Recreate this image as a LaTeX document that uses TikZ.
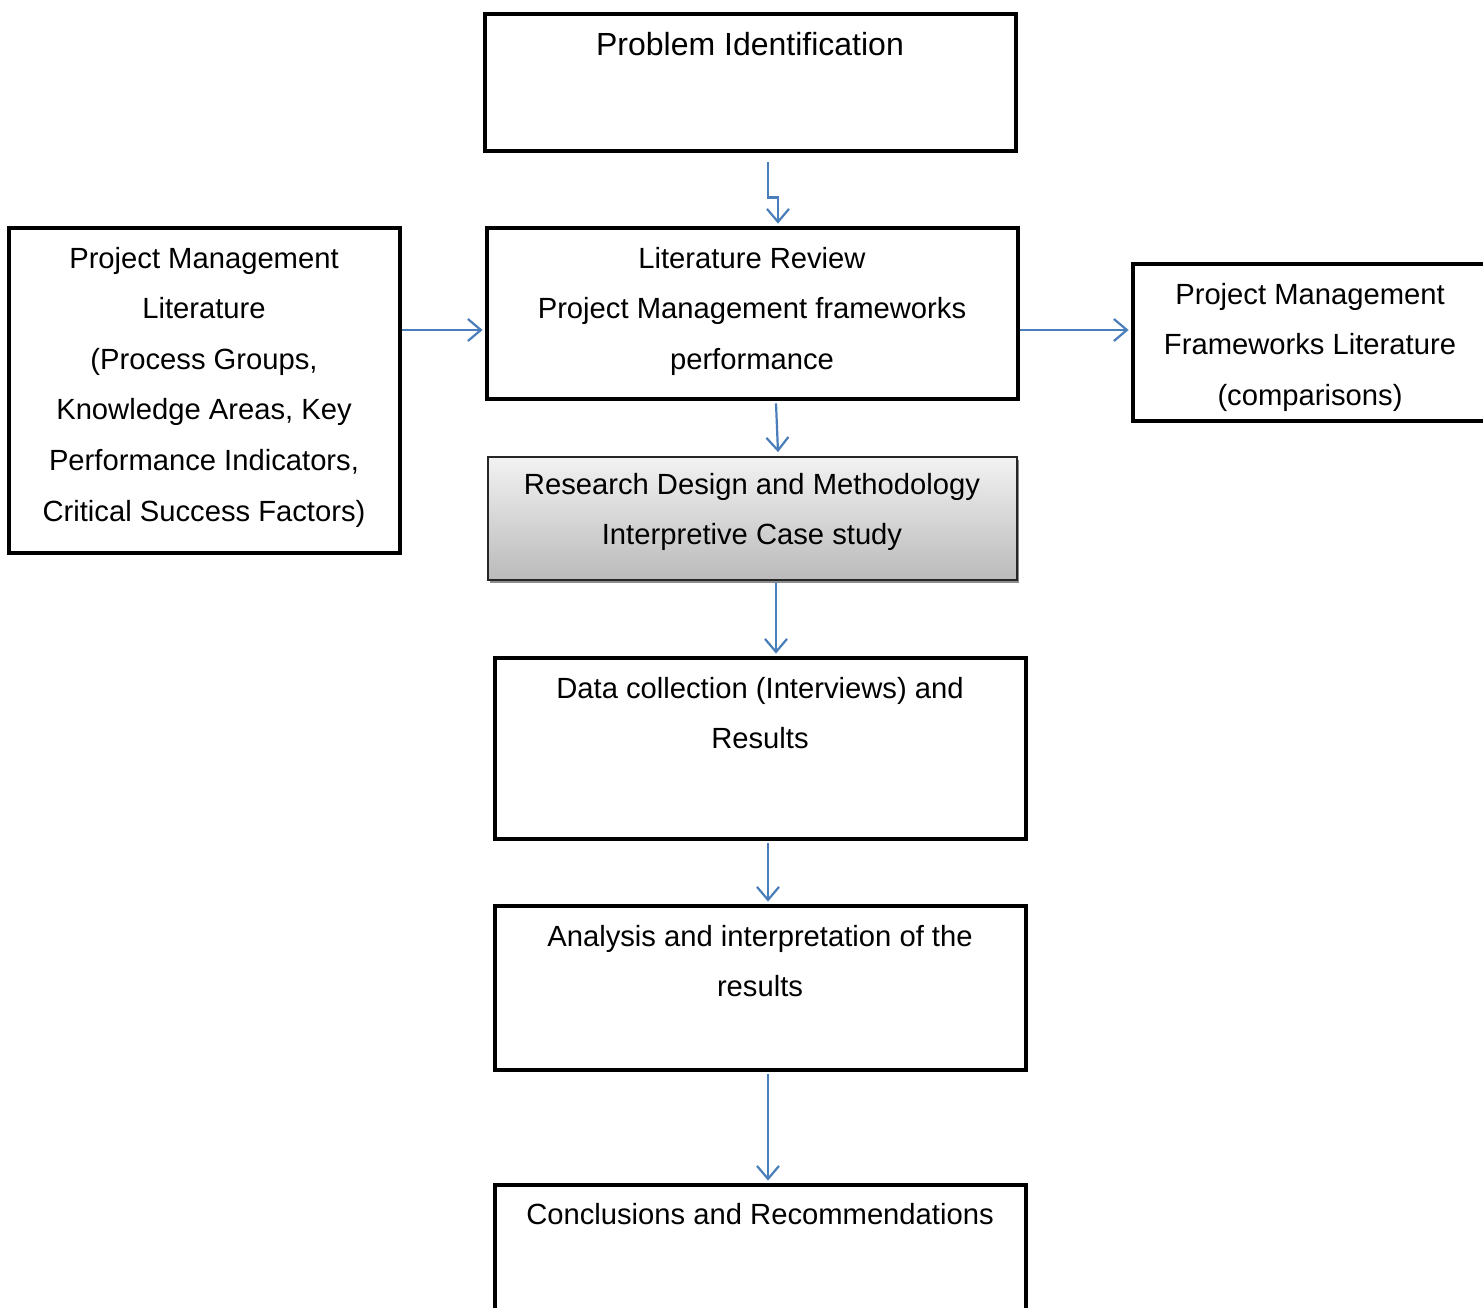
\documentclass[tikz,border=0pt]{standalone}
\usepackage{fontspec}
\setmainfont{Liberation Sans}
\usetikzlibrary{arrows.meta,fit,shadows,calc}
\definecolor{flowblue}{HTML}{4A7EBB}
\begin{document}
\begin{tikzpicture}[x=0.5pt,y=-0.5pt,
  box/.style={draw=black, line width=2.4pt, inner sep=0pt},
  shadedbox/.style={draw=black!85, line width=0.9pt, inner sep=0pt,
    top color=black!5, bottom color=black!27,
    drop shadow={shadow xshift=1pt, shadow yshift=-1.5pt, fill=black!45, opacity=1}},
  txt/.style={align=center, inner sep=0pt, anchor=north,
    font=\fontsize{14.6pt}{25.3pt}\selectfont},
  flow/.style={draw=flowblue, line width=1.1pt,
    -{Straight Barb[length=6.5pt,width=11pt,line width=1.1pt]}}]
\useasboundingbox (0,0) rectangle (1483,1307);

% boxes
\node[box, fit={(485,14) (1016,151)}] (pi) {};
\node[box, fit={(487,228) (1018,399)}] (lr) {};
\node[box, fit={(9,228) (400,553)}] (lit) {};
\node[box, fit={(1133,264) (1490,421)}] (fw) {};
\node[shadedbox, fit={(488,457) (1017,580)}] (rd) {};
\node[box, fit={(495,658) (1026,839)}] (dc) {};
\node[box, fit={(495,906) (1026,1070)}] (an) {};
\node[box, fit={(495,1185) (1026,1320)}] (cc) {};

% texts
\node[txt, font=\fontsize{16pt}{25.3pt}\selectfont] (pitx) at (750,32) {Problem Identification};
\node[txt] (lrtx) at (752,246.5) {Literature Review\\Project Management frameworks\\performance};
\node[txt] (littx) at (204,246.5) {Project Management\\Literature\\(Process Groups,\\Knowledge Areas, Key\\Performance Indicators,\\Critical Success Factors)};
\node[txt] (fwtx) at (1310,282.5) {Project Management\\Frameworks Literature\\(comparisons)};
\node[txt] (rdtx) at (752,472.5) {Research Design and Methodology\\Interpretive Case study};
\node[txt] (dctx) at (760,676.5) {Data collection (Interviews) and\\Results};
\node[txt] (antx) at (760,924.5) {Analysis and interpretation of the\\results};
\node[txt] (cctx) at (760,1202.5) {Conclusions and Recommendations};

% connectors
\draw[flow] ($(pi.south)+(17.5,9)$) -- ++(0,35) -- ++(10,0) -- ($(lr.north)+(25.5,-2)$);
\draw[flow] (lit.east |- 0,330) -- ($(lr.west |- 0,330)+(-2,0)$);
\draw[flow] (lr.east |- 0,330) -- ($(fw.west |- 0,330)+(-2,0)$);
\draw[flow] ($(lr.south)+(23.5,2)$) -- ($(rd.north)+(25.5,-4)$);
\draw[flow] ($(rd.south)+(23.5,2)$) -- ($(dc.north)+(15.5,-2)$);
\draw[flow] ($(dc.south)+(7.5,2)$) -- ($(an.north)+(7.5,-2)$);
\draw[flow] ($(an.south)+(7.5,2)$) -- ($(cc.north)+(7.5,-2)$);
\end{tikzpicture}
\end{document}
